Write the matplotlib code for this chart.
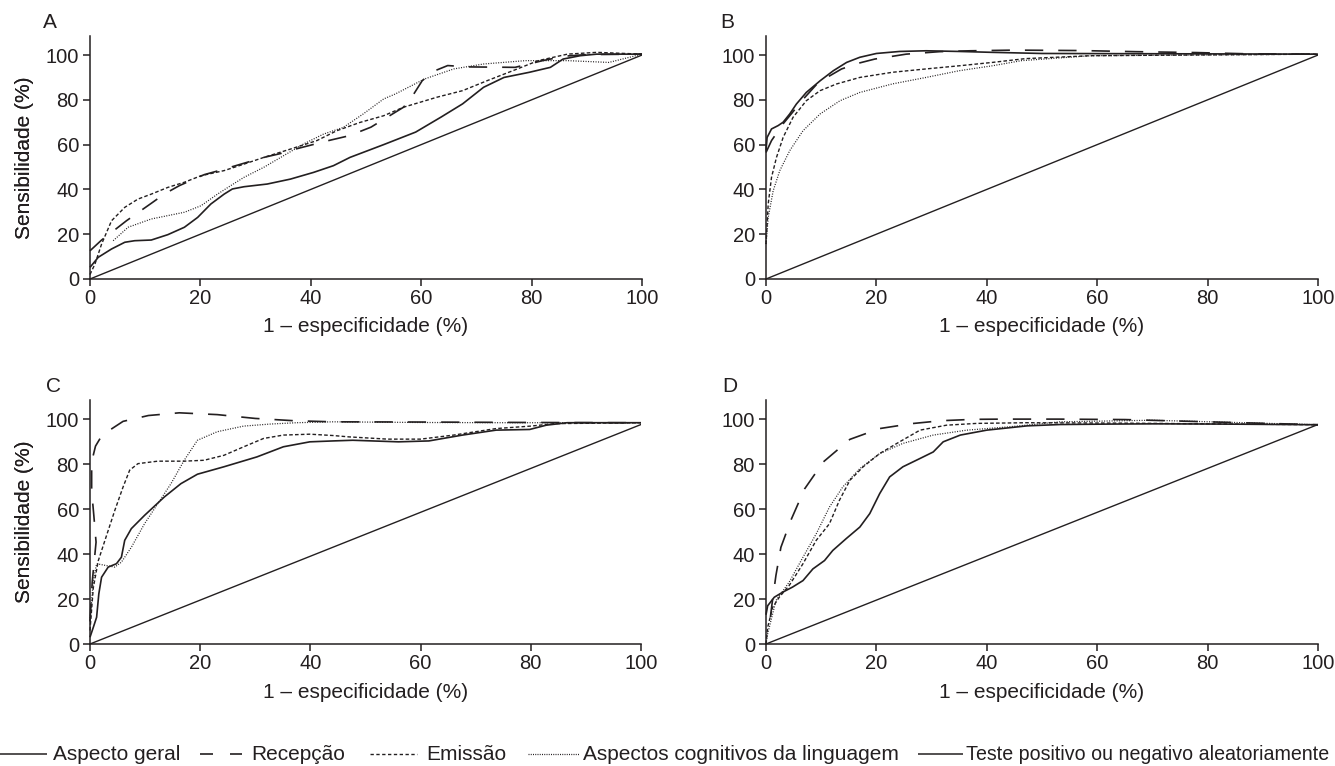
import matplotlib
matplotlib.use('Agg')
import matplotlib.pyplot as plt
from matplotlib.lines import Line2D

plt.rcParams['font.family'] = ['Liberation Sans', 'DejaVu Sans']

INK = '#231f20'
W, H = 1335, 766

# ---- data (x = 1 - especificidade, y = sensibilidade, %) ----
# panel A
A_geral_x = [0, 1.5, 3.9, 6.3, 8.1, 11.1, 14.1, 17.1, 19.5, 21.9, 24.3, 25.8, 27.9, 32.1, 36.3, 40.5, 44.1, 47.1,
             53.2, 59, 63.6, 67.5, 71.3, 75, 79.6, 83.4, 85.7, 88.8, 91.8, 100]
A_geral_y = [5.2, 9.7, 13.4, 16.4, 17.1, 17.4, 19.8, 23.1, 27.5, 33.5, 37.9, 40.2, 41.2, 42.4, 44.6, 47.6, 50.6, 54.3,
             60, 65.6, 72.3, 78.2, 85.6, 90, 92.3, 94.5, 98.2, 99.7, 100.4, 100.4]
A_recep_x = [0, 2.1, 4, 6.6, 11.1, 13.5, 16.2, 20.7, 23.5, 26.4, 31.5, 34.5, 37.2, 43.2, 47, 50.9, 56.8, 58.5, 60.2,
             62.5, 64.8, 68.6, 77, 82, 86, 90, 100]
A_recep_y = [12.6, 17.4, 21, 26, 33.8, 38, 41.7, 46.6, 48.5, 50.6, 54.3, 56, 58, 61.8, 64, 67.8, 76.7, 82, 88.6,
             93, 95.3, 94.7, 94.5, 97.5, 99.5, 100.2, 100.4]
A_emis_x = [0, 0.9, 2.1, 3.9, 6.3, 8.7, 11.1, 14.1, 17.1, 20.1, 24.3, 27.9, 31.5, 36.3, 41.1, 44.7, 48.9, 53.2, 56.8,
            62.9, 67.5, 72, 76.6, 81.2, 86.5, 91.8, 100]
A_emis_y = [2, 6.7, 15.6, 26, 32, 35.7, 37.9, 40.9, 43.2, 46.1, 48.4, 51.3, 54.3, 58, 61.8, 66.2, 69.9, 72.9, 76.7,
            81.2, 84.1, 88.6, 93, 97.5, 100.4, 101.2, 100.4]
A_cogn_x = [4.2, 6.9, 11.1, 14.1, 17.1, 20.1, 23.1, 25.5, 27.9, 31.5, 35.1, 38.7, 42.3, 45.9, 49.5, 53.2, 55.3, 60.6,
            65.9, 71.3, 78.9, 86.5, 94, 100]
A_cogn_y = [17.1, 23.1, 26.8, 28.3, 29.8, 32.7, 37.9, 41.7, 45.4, 49.9, 55.1, 60.3, 64.7, 67.7, 73.7, 80.4, 82.6, 89.3,
            93.8, 96, 97.5, 97.5, 96.7, 100.4]

# panel B
B_geral_x = [0, 0.2, 1, 2.2, 3.1, 4.3, 5.5, 7.3, 9.8, 12.2, 14.6, 17, 20, 24.2, 29, 35, 41, 50, 100]
B_geral_y = [57.3, 63.2, 67, 68.5, 70, 73.7, 78.1, 83.3, 88.5, 93, 96.7, 99, 100.7, 101.6, 101.9, 101.6, 101.2,
             100.7, 100.4]
B_recep_x = [0, 1, 3, 5, 7, 9.5, 13.7, 17, 19.7, 25.4, 31.4, 37, 45, 57, 67, 78, 88, 100]
B_recep_y = [56.5, 61.8, 69, 75, 81, 87.8, 93.8, 96.5, 98.2, 100.4, 101.5, 101.9, 102.2, 102, 101.5, 101.1, 100.5,
             100.4]
B_emis_x = [0, 0.4, 1, 1.9, 3.1, 4.9, 7.3, 9.8, 12.8, 17, 22.9, 29, 35, 41, 47, 58.8, 100]
B_emis_y = [15.6, 33.5, 45.4, 54.3, 63.2, 72.2, 79.6, 84.1, 87.1, 90, 92.3, 93.8, 95.2, 96.7, 98.4, 99.7, 100.4]
B_cogn_x = [0, 0.4, 1.3, 2.5, 4.3, 6.7, 9.8, 13.4, 17, 22.9, 29, 35, 41, 46.3, 58.8, 100]
B_cogn_y = [15.6, 27.5, 39.4, 48.4, 57.3, 66.2, 73.7, 79.6, 83.3, 87.1, 90, 93, 95.2, 97.5, 99.7, 100.4]

# panel C
C_geral_x = [0, 0.6, 1.2, 1.6, 2.1, 3.3, 4.8, 5.7, 6.3, 7.5, 9.9, 13.5, 16.5, 19.5, 24.3, 30.3, 35.1, 39.9, 44.1,
             47.7, 56, 61.5, 67.6, 73.7, 79.8, 82.8, 86.6, 100]
C_geral_y = [3, 7.4, 11.9, 22.3, 29.7, 34.2, 35.7, 38.6, 46.1, 51.3, 57.2, 65.4, 71.3, 75.5, 78.8, 83.2, 87.7, 89.9,
             90.3, 90.6, 89.9, 90.3, 92.9, 95.1, 95.4, 97.3, 98.4, 98.4]
C_recep_x = [0, 0.4, 1.1, 0.7, 0.3, 0.3, 1, 2.2, 6, 10.6, 16.2, 23.1, 30, 36.9, 44, 60, 80, 100]
C_recep_y = [10, 27.5, 45.3, 57, 68, 81, 88, 92.9, 99, 101.6, 102.8, 102, 100.3, 99.3, 98.8, 98.7, 98.5, 98.4]
C_emis_x = [0, 0.6, 1.5, 2.7, 4.5, 6, 7.2, 8.7, 12.3, 17.1, 20.7, 24.3, 27.9, 31.5, 35.1, 39.9, 44.1, 47, 54, 60,
            66, 73.7, 80, 84.4, 100]
C_emis_y = [6, 25, 37, 46, 59.4, 69.8, 77.3, 80.2, 81.3, 81.3, 81.7, 83.9, 87.7, 91.4, 92.9, 93.3, 92.7, 92.1, 91.1,
            91.1, 92.9, 95.8, 96.9, 98, 98.4]
C_cogn_x = [0, 0.6, 1.2, 2.7, 4.5, 5.7, 7.5, 9.9, 12.3, 14.7, 17.1, 19.5, 23.1, 27.9, 32.7, 37.5, 44.1, 60, 76, 100]
C_cogn_y = [10.4, 28.2, 35.7, 35, 34.2, 36.4, 43, 53.5, 62.4, 71.3, 81.7, 90.6, 94.4, 96.9, 97.8, 98.4, 98.8, 98.5,
            98.4, 98.4]

# panel D
D_geral_x = [0, 0.3, 1.5, 3, 4.8, 6.7, 8.5, 10.6, 12.1, 14.5, 17, 18.8, 20.6, 22.4, 24.8, 27.9, 30.3, 32.1, 35.2,
             40, 47.3, 53.3, 62.7, 70.5, 82.2, 100]
D_geral_y = [13, 17, 20.8, 23, 25.3, 28.2, 33.4, 37.1, 41.6, 46.8, 52, 58, 66.9, 74.3, 78.8, 82.5, 85.4, 89.9, 92.9,
             95.1, 97, 97.6, 97.8, 97.9, 97.8, 97.5]
D_recep_x = [0.8, 1.1, 1.8, 2.7, 4.5, 7, 10.4, 15.2, 20.6, 26.4, 31.8, 37.6, 43, 53, 65, 80, 100]
D_recep_y = [12, 18, 30.5, 43, 55, 69, 81, 91, 95.8, 98, 99.3, 99.9, 100, 100, 99.8, 98.8, 97.5]
D_emis_x = [0, 0.3, 1.2, 2.4, 4.2, 6.7, 9.1, 11.5, 13.3, 15.2, 17.6, 20.6, 24.2, 27.9, 32.7, 38.2, 47.3, 65, 100]
D_emis_y = [0, 7.4, 16.3, 20.8, 26, 35.7, 46.1, 53.5, 63.9, 72.8, 78.8, 84.7, 89.9, 95.1, 97.3, 98.1, 98.4, 98.2,
            97.5]
D_cogn_x = [0, 0.3, 1.8, 4.2, 6.7, 9.1, 11.5, 13.9, 17, 20.6, 24.8, 30.3, 36.4, 44.2, 53.3, 70, 100]
D_cogn_y = [0, 4.5, 19.3, 27.5, 38.6, 49, 60.9, 69.8, 78, 84.7, 89.2, 92.9, 95.1, 96.6, 98.8, 99.5, 97.5]

# chance line end (sensibilidade at 100 % 1-especificidade)
chance_end = {'A': 100, 'B': 100, 'C': 97.6, 'D': 97.6}

panels = {
    'A': [(A_geral_x, A_geral_y), (A_recep_x, A_recep_y), (A_emis_x, A_emis_y), (A_cogn_x, A_cogn_y)],
    'B': [(B_geral_x, B_geral_y), (B_recep_x, B_recep_y), (B_emis_x, B_emis_y), (B_cogn_x, B_cogn_y)],
    'C': [(C_geral_x, C_geral_y), (C_recep_x, C_recep_y), (C_emis_x, C_emis_y), (C_cogn_x, C_cogn_y)],
    'D': [(D_geral_x, D_geral_y), (D_recep_x, D_recep_y), (D_emis_x, D_emis_y), (D_cogn_x, D_cogn_y)],
}
legend_labels = ['Aspecto geral', 'Recepção', 'Emissão', 'Aspectos cognitivos da linguagem',
                 'Teste positivo ou negativo aleatoriamente']

styles = [dict(ls='-', lw=1.2),
          dict(ls=(0, (11, 9)), lw=1.2),
          dict(ls=(0, (2.6, 1.6)), lw=1.0),
          dict(ls=(0, (0.8, 1.2)), lw=0.9)]

fig = plt.figure(figsize=(W / 100, H / 100), dpi=100)

# axes rectangles in pixels: left, top(y of ylim max), right, bottom(y of 0)
rects = {'A': (90, 36, 642, 279), 'B': (766, 36, 1318, 279),
         'C': (90, 400, 641, 644), 'D': (766, 400, 1318, 644)}
letter_pos = {'A': (43, 22), 'B': (720, 22), 'C': (46, 387), 'D': (722, 387)}
fs_tick = 14.5
fs_lab = 15

for name, series in panels.items():
    l, t, r, b = rects[name]
    ax = fig.add_axes([l / W, 1 - b / H, (r - l) / W, (b - t) / H])
    for (xs, ys), st in zip(series, styles):
        ax.plot(xs, ys, color=INK, solid_capstyle='butt', dash_capstyle='butt', clip_on=False, **st)
    ax.plot([0, 100], [0, chance_end[name]], color=INK, lw=1.0)

    ax.set_xlim(0, 100)
    ax.set_ylim(0, 108.5)
    ax.set_xticks(range(0, 101, 20))
    ax.set_yticks(range(0, 101, 20))
    for s in ['top', 'right']:
        ax.spines[s].set_visible(False)
    for s in ['left', 'bottom']:
        ax.spines[s].set_linewidth(1.1)
        ax.spines[s].set_color(INK)
    ax.tick_params(direction='out', length=5, width=1.1, colors=INK, labelsize=fs_tick)
    ax.tick_params(axis='y', pad=3)
    ax.tick_params(axis='x', pad=2)
    ax.set_xlabel('1 – especificidade (%)', fontsize=fs_lab, color=INK)
    ax.set_ylabel('Sensibilidade (%)', fontsize=fs_lab, color=INK)
    # x label centred ~48 px below the axis, y label centred ~25 px from the figure edge
    ax.xaxis.set_label_coords(0.5, -48 / (b - t))
    ax.xaxis.label.set_verticalalignment('center')
    ax.yaxis.set_label_coords(-(l - 25) / (r - l), 0.5)
    ax.yaxis.label.set_verticalalignment('center')
    lx, lyy = letter_pos[name]
    fig.text(lx / W, 1 - lyy / H, name, fontsize=fs_lab, color=INK, va='center', ha='left')

# legend row along the bottom
ly = 1 - 754 / H
handles = [(0, 47), (200, 242), (370, 417), (528, 579), (918, 963)]
text_x = [53, 251, 426, 583, 966]
leg_fs = [fs_lab, fs_lab, fs_lab, fs_lab, 14.1]
leg_styles = [dict(ls='-', lw=1.1),
              dict(ls=(0, (7.8, 10.2)), lw=1.2),
              dict(ls=(0, (2.4, 1.8)), lw=1.0),
              dict(ls=(0, (0.8, 1.0)), lw=0.9),
              dict(ls='-', lw=1.1)]
for (x0, x1), tx, lab, st, f in zip(handles, text_x, legend_labels, leg_styles, leg_fs):
    fig.add_artist(Line2D([x0 / W, x1 / W], [ly, ly], transform=fig.transFigure, color=INK,
                          dash_capstyle='butt', solid_capstyle='butt', **st))
    fig.text(tx / W, ly, lab, fontsize=f, color=INK, va='center', ha='left')

fig.savefig('out.png', dpi=100)
